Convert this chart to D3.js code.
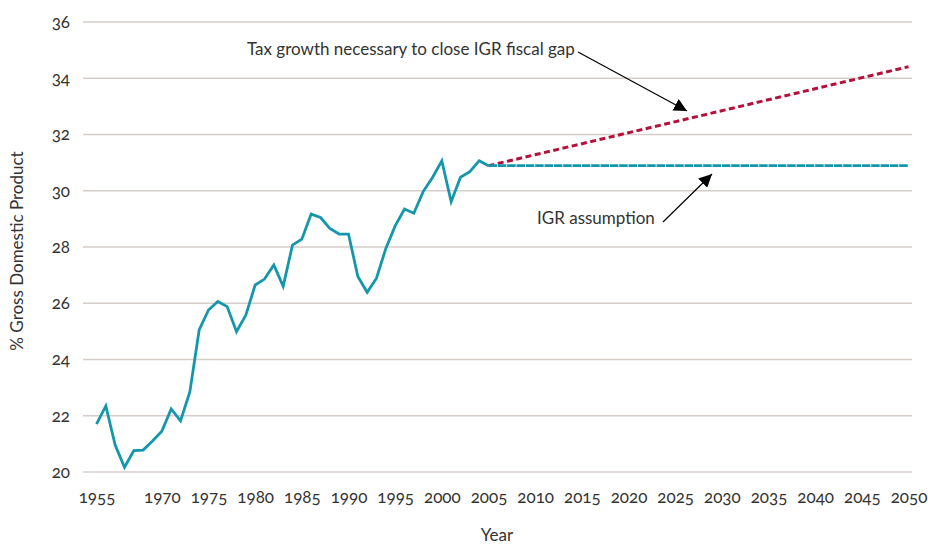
<!DOCTYPE html>
<html><head><meta charset="utf-8">
<script src="https://cdn.jsdelivr.net/npm/d3@7"></script>
<style>
body{margin:0;background:#fff;}
text{font-family:Lato,"Open Sans",sans-serif;fill:#333;font-variant-numeric:oldstyle-nums;font-feature-settings:"onum" 1;}
</style></head>
<body><svg id="c" width="928" height="545"></svg>
<script>
const categories = ["1955","1964","1965","1966","1967","1968","1969","1970","1971","1972","1973","1974","1975","1976","1977","1978","1979","1980","1981","1982","1983","1984","1985","1986","1987","1988","1989","1990","1991","1992","1993","1994","1995","1996","1997","1998","1999","2000","2001","2002","2003","2004","2005","2006","2007","2008","2009","2010","2011","2012","2013","2014","2015","2016","2017","2018","2019","2020","2021","2022","2023","2024","2025","2026","2027","2028","2029","2030","2031","2032","2033","2034","2035","2036","2037","2038","2039","2040","2041","2042","2043","2044","2045","2046","2047","2048","2049","2050"];
const historyYears = categories.slice(0, 43);
const historyValues = [21.7,22.35,20.96,20.17,20.76,20.78,21.1,21.45,22.24,21.82,22.85,25.05,25.76,26.06,25.88,24.99,25.58,26.65,26.86,27.36,26.6,28.07,28.28,29.17,29.05,28.66,28.46,28.46,26.95,26.39,26.89,27.95,28.75,29.35,29.2,29.97,30.47,31.06,29.61,30.48,30.68,31.07,30.89];
const igrYears = categories.slice(42);
const igrValues = igrYears.map(() => 30.89); // IGR assumption: flat
const taxYears = ["2005","2050"];
const taxValues = [30.89, 34.41];
const xTickLabels = ["1955","1970","1975","1980","1985","1990","1995","2000","2005","2010","2015","2020","2025","2030","2035","2040","2045","2050"];
const yTicks = [20,22,24,26,28,30,32,34,36];

const svg = d3.select("#c");
const x = d3.scalePoint().domain(categories).range([96.5, 908.5]);
const y = d3.scaleLinear().domain([20,36]).range([472, 22]);

// gridlines
svg.append("g").selectAll("line").data(yTicks).join("line")
  .attr("x1",83).attr("x2",912).attr("y1",d=>y(d)).attr("y2",d=>y(d))
  .attr("stroke","#d6cdcb").attr("stroke-width",1.3);

// y axis labels
const yAxis = d3.axisLeft(y).tickValues(yTicks).tickSize(0).tickPadding(0);
const gy = svg.append("g").attr("transform","translate(70,0)").call(yAxis);
gy.select(".domain").remove();
gy.selectAll("text").attr("font-size",17).attr("fill","#333").style("font-family","Lato,sans-serif");

// x axis labels
const xAxis = d3.axisBottom(x).tickValues(xTickLabels).tickSize(0).tickPadding(0);
const gx = svg.append("g").attr("transform","translate(0,491)").call(xAxis);
gx.select(".domain").remove();
gx.selectAll("text").attr("font-size",17).attr("fill","#333").attr("dy","0.71em").style("font-family","Lato,sans-serif");

// axis titles
svg.append("text").attr("x",497).attr("y",541).attr("text-anchor","middle").attr("font-size",17).text("Year");
svg.append("text").attr("transform","translate(23,251) rotate(-90)").attr("text-anchor","middle").attr("font-size",17).text("% Gross Domestic Product");

const line = d3.line().x(d=>x(d[0])).y(d=>y(d[1]));

// tax growth dashed
svg.append("path").datum(d3.zip(taxYears, taxValues)).attr("d",line)
  .attr("fill","none").attr("stroke","#b5103c").attr("stroke-width",3)
  .attr("stroke-dasharray","6,3.5");

// IGR flat (with faint yearly joins)
svg.append("path").datum(d3.zip(igrYears, igrValues)).attr("d",line)
  .attr("fill","none").attr("stroke","#1497aa").attr("stroke-width",2.8)
  .attr("stroke-dasharray", (x.step()-0.8)+",0.8");

// history
svg.append("path").datum(d3.zip(historyYears, historyValues)).attr("d",line)
  .attr("fill","none").attr("stroke","#1497aa").attr("stroke-width",2.8)
  .attr("stroke-linejoin","miter");

// annotations
const defs = svg.append("defs");
defs.append("marker").attr("id","ah").attr("viewBox","0 0 10 10").attr("refX",10).attr("refY",5)
  .attr("markerWidth",13).attr("markerHeight",13).attr("markerUnits","userSpaceOnUse").attr("orient","auto")
  .append("path").attr("d","M0,0L10,5L0,10Z").attr("fill","#000");

svg.append("text").attr("x",247).attr("y",55).attr("font-size",17).text("Tax growth necessary to close IGR fiscal gap");
svg.append("line").attr("x1",578).attr("y1",52).attr("x2",687).attr("y2",111)
  .attr("stroke","#000").attr("stroke-width",1.2).attr("marker-end","url(#ah)");

svg.append("text").attr("x",537).attr("y",224).attr("font-size",17).text("IGR assumption");
svg.append("line").attr("x1",663).attr("y1",222).attr("x2",712).attr("y2",174)
  .attr("stroke","#000").attr("stroke-width",1.2).attr("marker-end","url(#ah)");
</script></body></html>
